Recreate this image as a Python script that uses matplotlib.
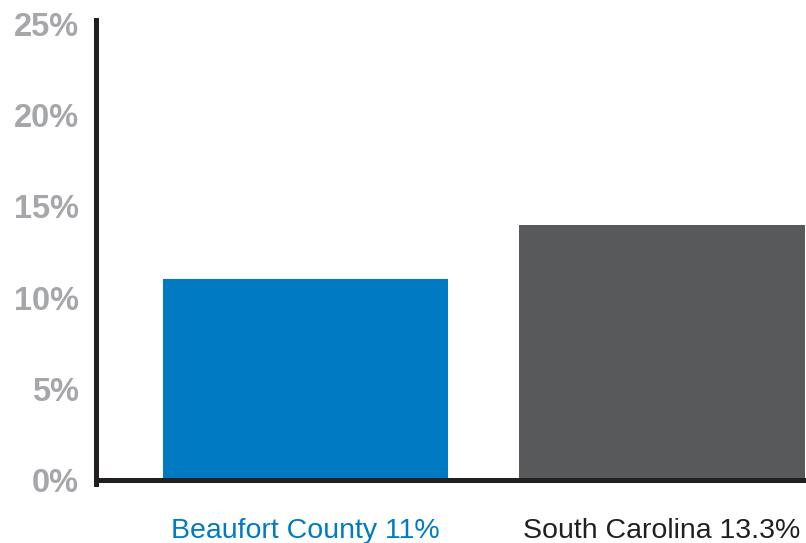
import matplotlib.pyplot as plt

# data
regions = ['Beaufort County', 'South Carolina']
labels = ['Beaufort County 11%', 'South Carolina 13.3%']
values = [11.0, 14.0]
yticks = [0, 5, 10, 15, 20, 25]

bar_colors = ['#007ac2', '#58595b']
label_colors = ['#007ac2', '#231f20']

plt.rcParams['font.family'] = ['Liberation Sans', 'DejaVu Sans']

fig = plt.figure(figsize=(8.06, 5.43), dpi=100)
ax = fig.add_axes([0.119, 0.116, 0.881, 0.840])

x = list(range(len(regions)))
ax.bar(x, values, width=0.8, color=bar_colors, zorder=1)

ax.set_xlim(-0.588, 1.404)
ax.set_ylim(0, 25)

ax.set_yticks(yticks)
ax.set_yticklabels([f'{v}%' for v in yticks], fontsize=23.5, fontweight='bold',
                   color='#a5a7aa')
ax.set_xticks(x)
ax.set_xticklabels(labels, fontsize=20.5)
for t, c in zip(ax.get_xticklabels(), label_colors):
    t.set_color(c)

ax.tick_params(axis='y', length=0, pad=12)
ax.tick_params(axis='x', length=0, pad=27)

for s in ['top', 'right']:
    ax.spines[s].set_visible(False)
for s in ['left', 'bottom']:
    ax.spines[s].set_linewidth(3.6)
    ax.spines[s].set_color('#231f20')
    ax.spines[s].set_zorder(3)
ax.spines['left'].set_bounds(-0.2, 25.2)
ax.spines['bottom'].set_bounds(-0.588, 1.395)

fig.savefig('out.png', dpi=100)
